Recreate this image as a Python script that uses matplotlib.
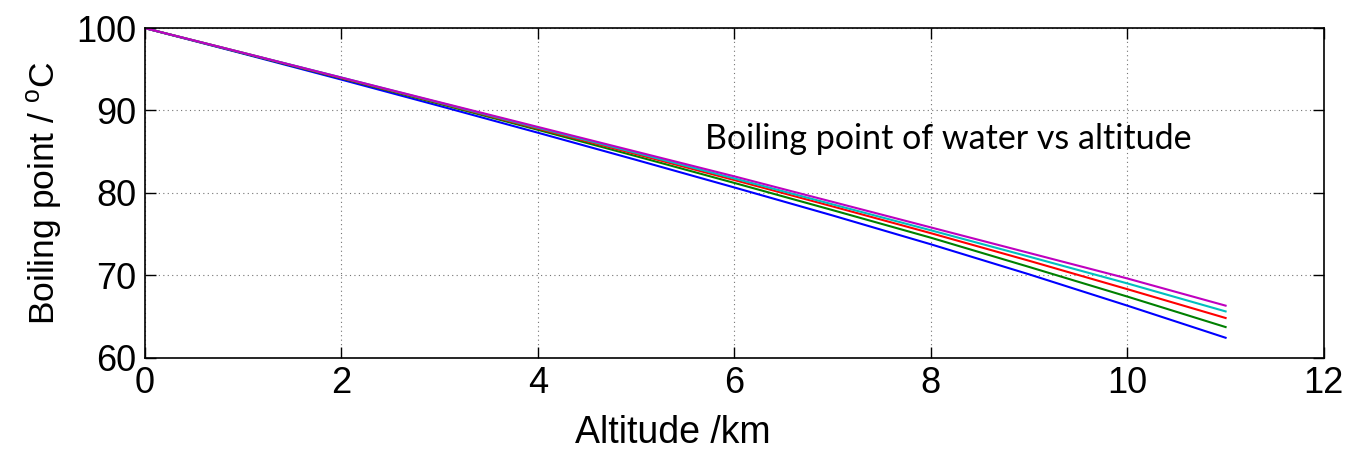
import matplotlib
matplotlib.use("Agg")
import matplotlib.pyplot as plt

altitude_km = [0, 1, 2, 3, 4, 5, 6, 7, 8, 9, 10, 11]
bp_blue = [100, 96.9, 93.75, 90.55, 87.3, 84.0, 80.65, 77.25, 73.75, 70.1, 66.3, 62.4]
bp_green = [100, 96.95, 93.9, 90.8, 87.65, 84.45, 81.2, 77.9, 74.55, 71.0, 67.4, 63.7]
bp_red = [100, 97.0, 93.95, 90.9, 87.8, 84.7, 81.55, 78.35, 75.1, 71.75, 68.3, 64.8]
bp_cyan = [100, 97.0, 94.0, 90.95, 87.9, 84.85, 81.75, 78.6, 75.45, 72.25, 69.0, 65.6]
bp_magenta = [100, 97.0, 94.0, 91.0, 88.0, 85.0, 82.0, 78.9, 75.8, 72.7, 69.6, 66.3]

series = [
    (bp_blue, (0, 0, 1)),
    (bp_green, (0, 0.5, 0)),
    (bp_red, (1, 0, 0)),
    (bp_cyan, (0, 0.75, 0.75)),
    (bp_magenta, (0.75, 0, 0.75)),
]

plt.rcParams['font.family'] = ['Liberation Sans', 'DejaVu Sans']
plt.rcParams['mathtext.fontset'] = 'custom'
plt.rcParams['mathtext.rm'] = 'Liberation Sans'
plt.rcParams['mathtext.it'] = 'Liberation Sans'

fig = plt.figure(figsize=(13.55, 4.54), dpi=100)
ax = fig.add_axes([0.107, 0.2125, 0.870, 0.7255])

for vals, col in series:
    ax.plot(altitude_km, vals, color=col, lw=1.5)

ax.set_xlim(0, 12)
ax.set_ylim(60, 100)
ax.set_xticks([0, 2, 4, 6, 8, 10, 12])
ax.set_yticks([60, 70, 80, 90, 100])
ax.grid(True, linestyle=(0, (1, 3)), color='0.45', lw=0.8)
ax.tick_params(direction='in', length=8, width=1, labelsize=26,
               top=True, right=True, pad=6)
for s in ax.spines.values():
    s.set_linewidth(1.2)

ax.set_xlabel('Altitude /km', fontsize=27)
ax.xaxis.set_label_coords(0.448, -0.175)
ax.set_ylabel(r'Boiling point / $^{\rm o}$C', fontsize=25.5, labelpad=9)

ax.text(5.70, 86.5, 'Boiling point of water vs altitude', fontsize=24.5,
        family=['Lato', 'DejaVu Sans'], ha='left', va='center')

fig.savefig('out.png', dpi=100)
